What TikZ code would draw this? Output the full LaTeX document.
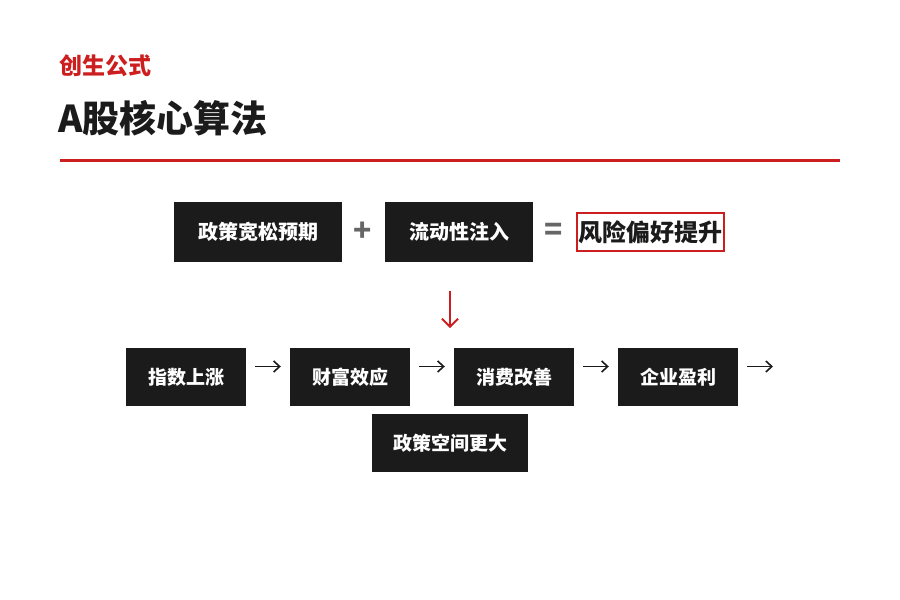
\documentclass[tikz,border=0pt]{standalone}
\usepackage{fontspec}
\setmainfont{Noto Sans CJK SC}
\usetikzlibrary{arrows.meta}
\definecolor{accent}{HTML}{CC1E1E}
\definecolor{boxfill}{HTML}{1B1B1B}
\definecolor{opgray}{HTML}{666666}
\definecolor{ink}{HTML}{1B1B1B}
\tikzset{
  darkbox/.style={fill=boxfill, text=white, inner sep=0pt, font=\fontsize{#1}{#1}\selectfont\bfseries},
  darkbox/.default=20,
  resultbox/.style={draw=accent, line width=2pt, fill=white, text=ink, inner sep=0pt,
    minimum width=147pt, minimum height=38pt, font=\fontsize{24}{24}\selectfont\bfseries},
  opsign/.style={text=opgray, inner sep=0pt, font=\fontsize{30}{30}\selectfont\bfseries},
  flow/.style={draw=ink, line width=1.5pt, -{Straight Barb[length=6pt,width=11pt,line width=1.6pt]}},
  downflow/.style={draw=accent, line width=1.7pt, -{Straight Barb[length=8pt,width=16pt,line width=1.8pt]}},
}
\begin{document}
\begin{tikzpicture}[x=1pt,y=-1pt]
\useasboundingbox (0,0) rectangle (900,600);
% header
\node[anchor=west, inner sep=0pt, text=accent, font=\fontsize{23}{23}\selectfont\bfseries] (kicker) at (59.5,65.5) {创生公式};
\node[anchor=west, inner sep=0pt, text=ink, font=\fontsize{37}{37}\selectfont\bfseries] (title) at (58,118) {A股核心算法};
\coordinate (ruleL) at (60,160);
\coordinate (ruleR) at (840,160);
\draw[accent, line width=3pt] (ruleL) -- (ruleR);
% formula row
\node[darkbox, minimum width=168pt, minimum height=60pt] (policy) at (258,232) {政策宽松预期};
\node[opsign] (plus) at (363,232) {+};
\node[darkbox, minimum width=148pt, minimum height=60pt] (liq) at (459,232) {流动性注入};
\node[opsign] (eq) at (554,232) {=};
\node[resultbox] (risk) at (650.5,232) {风险偏好提升};
% down arrow
\coordinate (dtop) at (450,291);
\coordinate (dbot) at (450,328);
\draw[downflow] (dtop) -- (dbot);
% chain row
\node[darkbox=19, minimum width=120pt, minimum height=58pt] (b1) at (186,377) {指数上涨};
\node[darkbox=19, minimum width=120pt, minimum height=58pt] (b2) at (350,377) {财富效应};
\node[darkbox=19, minimum width=120pt, minimum height=58pt] (b3) at (514,377) {消费改善};
\node[darkbox=19, minimum width=120pt, minimum height=58pt] (b4) at (678,377) {企业盈利};
\node[darkbox=19, minimum width=156pt, minimum height=58pt] (b5) at (450,443) {政策空间更大};
\draw[flow] ([shift={(9,-10.5)}]b1.east) -- ([shift={(-9,-10.5)}]b2.west);
\draw[flow] ([shift={(9,-10.5)}]b2.east) -- ([shift={(-9,-10.5)}]b3.west);
\draw[flow] ([shift={(9,-10.5)}]b3.east) -- ([shift={(-9,-10.5)}]b4.west);
\coordinate (tail) at (773,366.5);
\draw[flow] ([shift={(9,-10.5)}]b4.east) -- (tail);
\end{tikzpicture}
\end{document}
